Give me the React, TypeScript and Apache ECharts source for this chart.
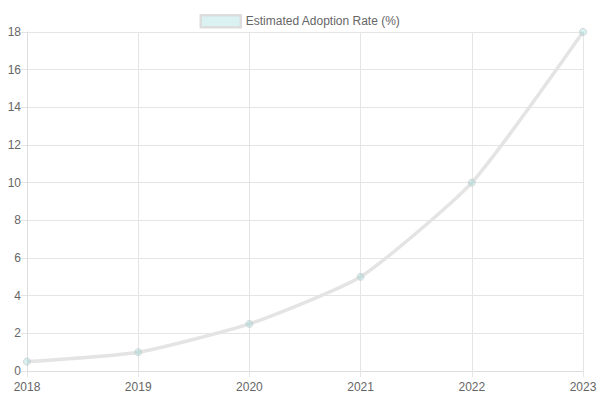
import { useEffect, useRef } from 'react';
import * as echarts from 'echarts';

const years = ['2018', '2019', '2020', '2021', '2022', '2023'];
const adoptionRate = [0.5, 1, 2.5, 5, 10, 18];
const seriesName = 'Estimated Adoption Rate (%)';

const App = () => {
    const chartRef = useRef<HTMLDivElement | null>(null);

    useEffect(() => {
        if (!chartRef.current) return;
        const chart = echarts.init(chartRef.current, undefined, { renderer: 'svg' });
        chart.setOption({
            animation: false,
            textStyle: { fontFamily: 'Liberation Sans, Arial, sans-serif' },
            legend: {
                top: 9,
                left: 'center',
                itemWidth: 40,
                itemHeight: 12,
                itemGap: 10,
                icon: 'rect',
                textStyle: { color: '#666', fontSize: 12 },
                data: [
                    {
                        name: seriesName,
                        itemStyle: {
                            color: 'rgba(75,192,192,0.2)',
                            borderColor: '#dddddd',
                            borderWidth: 2.5
                        }
                    }
                ]
            },
            grid: { left: 27, right: 17, top: 32, bottom: 29, containLabel: false },
            xAxis: {
                type: 'category',
                data: years,
                boundaryGap: false,
                axisLine: { show: true, lineStyle: { color: '#ddd' } },
                axisTick: { show: true, length: 6, lineStyle: { color: '#e5e5e5' } },
                axisLabel: { color: '#666', fontSize: 12, margin: 10, showMinLabel: true, showMaxLabel: true },
                splitLine: { show: true, lineStyle: { color: '#e5e5e5' } }
            },
            yAxis: {
                type: 'value',
                min: 0,
                max: 18,
                interval: 2,
                axisLine: { show: true, lineStyle: { color: '#ddd' } },
                axisTick: { show: true, length: 6, lineStyle: { color: '#e5e5e5' } },
                axisLabel: { color: '#666', fontSize: 12, margin: 6 },
                splitLine: { show: true, lineStyle: { color: '#e5e5e5' } }
            },
            series: [
                {
                    name: seriesName,
                    type: 'line',
                    data: adoptionRate,
                    smooth: 0.18,
                    symbol: 'circle',
                    symbolSize: 7,
                    lineStyle: { color: '#e4e4e4', width: 3.5 },
                    itemStyle: {
                        color: 'rgba(75,192,192,0.2)',
                        borderColor: '#d0d6d6',
                        borderWidth: 1
                    }
                }
            ]
        });
        return () => chart.dispose();
    }, []);

    return (
        <div
            ref={chartRef}
            style={{ position: 'fixed', left: 0, top: 0, width: 600, height: 400, background: '#fff' }}
        />
    );
};

export default App;
